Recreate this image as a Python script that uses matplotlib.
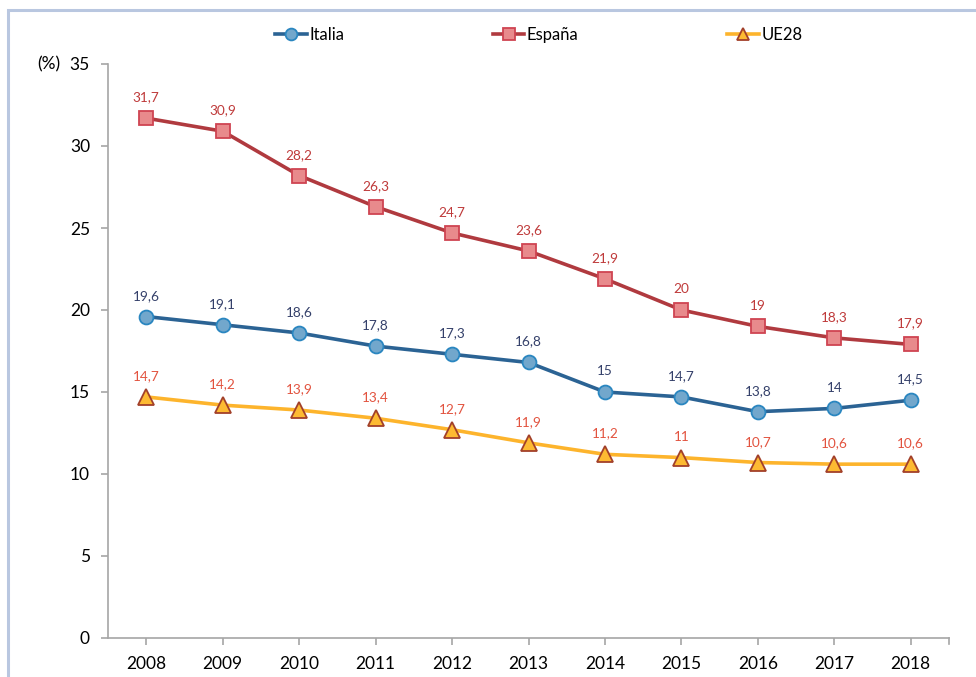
import matplotlib
matplotlib.use("Agg")
import matplotlib.pyplot as plt
from matplotlib.patches import Rectangle

years = ["2008", "2009", "2010", "2011", "2012", "2013", "2014", "2015", "2016", "2017", "2018"]
italia = [19.6, 19.1, 18.6, 17.8, 17.3, 16.8, 15.0, 14.7, 13.8, 14.0, 14.5]
espana = [31.7, 30.9, 28.2, 26.3, 24.7, 23.6, 21.9, 20.0, 19.0, 18.3, 17.9]
ue28 = [14.7, 14.2, 13.9, 13.4, 12.7, 11.9, 11.2, 11.0, 10.7, 10.6, 10.6]
series_names = ["Italia", "España", "UE28"]

plt.rcParams['font.family'] = ['Lato', 'DejaVu Sans']

fig = plt.figure(figsize=(9.76, 6.77), dpi=100)
ax = fig.add_axes([108/976, 1-638/677, (949-108)/976, (638-64)/677])

# outer frame (cropped at right/bottom)
fig.patches.append(Rectangle((8/976, -0.05), 1.2, 1-10/677+0.05, transform=fig.transFigure,
                             fill=False, edgecolor='#B9C7E0', linewidth=2.2, zorder=0))

x = list(range(len(years)))

styles = [
    dict(data=italia, line='#2B6394', mfc='#72A7CC', mec='#2A86C0', marker='o', ms=10, lab='#34406A'),
    dict(data=espana, line='#B03A3F', mfc='#E88A8C', mec='#CF4452', marker='s', ms=9.5, lab='#BF3A3A'),
    dict(data=ue28, line='#FDB42C', mfc='#FDBA32', mec='#A2402A', marker='^', ms=11, lab='#E2533F'),
]

handles = []
for name, st in zip(series_names, styles):
    h, = ax.plot(x, st['data'], color=st['line'], lw=2.6, marker=st['marker'], ms=st['ms'],
                 mfc=st['mfc'], mec=st['mec'], mew=1.3, label=name, zorder=3)
    handles.append(h)
    for xi, v in zip(x, st['data']):
        txt = f"{v:g}".replace('.', ',')
        ax.annotate(txt, (xi, v), xytext=(0, 15), textcoords='offset points',
                    ha='center', va='center', fontsize=9.8, color=st['lab'])

ax.set_xlim(-0.5, len(years) - 0.5)
ax.set_ylim(0, 35)
ax.set_yticks(range(0, 36, 5))
ax.set_xticks(x)
ax.set_xticklabels(years)
for s in ['top', 'right']:
    ax.spines[s].set_visible(False)
for s in ['left', 'bottom']:
    ax.spines[s].set_color('#A6A6A6')
    ax.spines[s].set_linewidth(1.2)
ax.tick_params(axis='both', colors='#A6A6A6', labelcolor='black', labelsize=12.5, length=5, width=1.2)
ax.tick_params(axis='x', pad=8)
ax.tick_params(axis='y', pad=8)
# end tick at right edge of category axis
ax.plot([len(years) - 0.5, len(years) - 0.5], [0, -0.35], color='#A6A6A6', lw=1.2, clip_on=False)

fig.text(49/976, 1-64/677, "(%)", ha='center', va='center', fontsize=12.5)

leg = fig.legend(handles=handles, labels=series_names, loc='center', ncol=3,
                 bbox_to_anchor=(0.552, 1-35/677), frameon=False, fontsize=12,
                 handlelength=1.9, handletextpad=0.15, columnspacing=8.9, markerscale=0.85)

fig.savefig("out.png", dpi=100)
